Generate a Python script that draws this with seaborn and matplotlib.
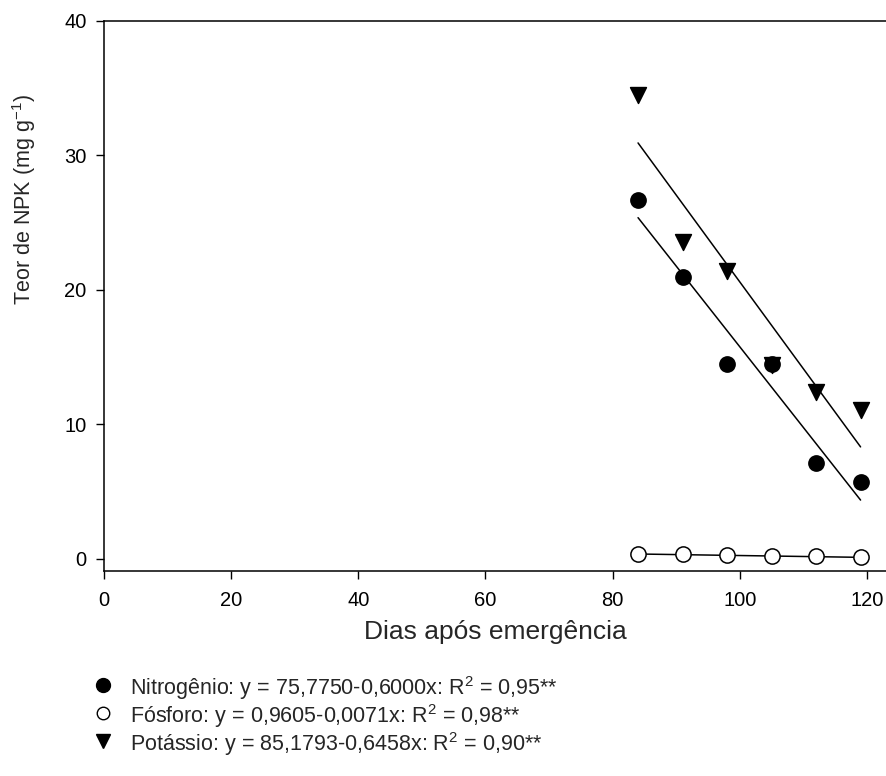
import numpy as np
import pandas as pd
import matplotlib
matplotlib.use("Agg")
import matplotlib.pyplot as plt
from matplotlib.lines import Line2D
import seaborn as sns

# ---- data ----
days = [84, 91, 98, 105, 112, 119]
nitrogenio = [26.7, 21.0, 14.5, 14.5, 7.1, 5.7]
fosforo = [0.40, 0.33, 0.30, 0.24, 0.18, 0.14]
potassio = [34.5, 23.6, 21.4, 14.4, 12.4, 11.1]

series_names = ["Nitrogênio", "Fósforo", "Potássio"]
intercepts = [75.7750, 0.9605, 85.1793]
slopes = [-0.6000, -0.0071, -0.6458]
r2 = ["0,95", "0,98", "0,90"]
eq_text = ["75,7750-0,6000x", "0,9605-0,0071x", "85,1793-0,6458x"]

x_ticks = [0, 20, 40, 60, 80, 100, 120]
y_ticks = [0, 10, 20, 30, 40]

sns.set_style("ticks")
plt.rcParams["font.family"] = ["Liberation Sans", "DejaVu Sans"]
plt.rcParams["mathtext.default"] = "regular"

fig = plt.figure(figsize=(8.86, 7.76), dpi=100)
ax = fig.add_axes([104 / 886, 1 - 571 / 776, 1 - 104 / 886, (571 - 21) / 776])

df = pd.DataFrame({
    "dias": days * 3,
    "teor": nitrogenio + fosforo + potassio,
    "serie": [series_names[0]] * 6 + [series_names[1]] * 6 + [series_names[2]] * 6,
})

styles = {
    "Nitrogênio": dict(marker="o", facecolor="black"),
    "Fósforo": dict(marker="o", facecolor="white"),
    "Potássio": dict(marker="v", facecolor="black"),
}

# regression lines
xfit = np.array([min(days), max(days)])
for name, b0, b1 in zip(series_names, intercepts, slopes):
    sns.lineplot(x=xfit, y=b0 + b1 * xfit, ax=ax, color="black", lw=1.1, zorder=2)

for name in series_names:
    sub = df[df["serie"] == name]
    st = styles[name]
    sns.scatterplot(data=sub, x="dias", y="teor", ax=ax, marker=st["marker"],
                    color=st["facecolor"], edgecolor="black", linewidth=1.1,
                    s=120 if st["marker"] == "o" else 130, zorder=3, legend=False)

ax.set_xlim(0, 123)
ax.set_ylim(-0.9, 40)
ax.set_xticks(x_ticks)
ax.set_yticks(y_ticks)
ax.tick_params(axis="both", direction="out", length=5.5, width=1, labelsize=14.5,
               color="black", labelcolor="black")
ax.tick_params(axis="x", pad=9)
ax.tick_params(axis="y", pad=7)
for side in ["left", "bottom", "top"]:
    ax.spines[side].set_color("black")
    ax.spines[side].set_linewidth(1.1)
ax.spines["right"].set_visible(False)

ax.set_xlabel("Dias após emergência", fontsize=19, labelpad=7)
ax.set_ylabel("Teor de NPK (mg g$^{-1}$)", fontsize=15.5)
ax.yaxis.set_label_coords(-0.084, 0.675)

# legend (manual rows so the row spacing matches the reference)
legend_markers = [("o", "black", 10), ("o", "white", 9), ("v", "black", 10)]
labels = [f"{n}: y = {e}: R$^2$ = {r}**" for n, e, r in zip(series_names, eq_text, r2)]
row_y = [685, 713, 741]
for (mk, fc, ms), lab, ypx in zip(legend_markers, labels, row_y):
    yf = 1 - ypx / 776
    fig.add_artist(Line2D([103 / 886], [yf], marker=mk, linestyle="none",
                          markerfacecolor=fc, markeredgecolor="black", markersize=ms,
                          transform=fig.transFigure))
    fig.text(130 / 886, yf, lab, fontsize=15.5, ha="left", va="center_baseline")

fig.savefig("out.png", dpi=100)
